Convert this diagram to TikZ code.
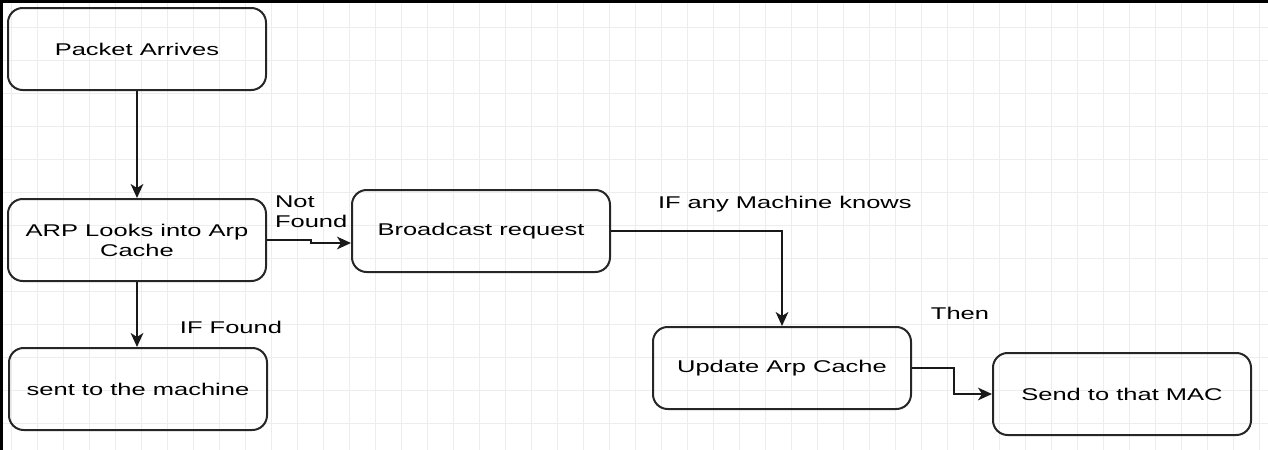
\documentclass[tikz,border=0pt]{standalone}
\usepackage{fontspec}
\setmainfont{Liberation Sans}[FakeStretch=1.5]
\usepackage{tikz}
\usetikzlibrary{arrows.meta,calc}
\tikzset{every picture/.style={line width=1.5pt}}
\tikzset{
  stepbox/.style={draw=black!85,rounded corners=11pt,minimum width=193.5pt,minimum height=61.5pt,align=center,inner sep=0.75pt,font=\fontsize{12.75pt}{15pt}\selectfont},
  lbl/.style={inner sep=0.75pt,font=\fontsize{12.75pt}{14.5pt}\selectfont},
  flow/.style={draw=black!90,line width=1.5pt,-{Stealth[length=10.5pt,width=9.5pt,inset=3pt]}}
}

\begin{document}
\begin{tikzpicture}[x=0.75pt,y=0.75pt,yscale=-1,xscale=1]
\useasboundingbox (0,0) rectangle (1268,450);
% grid
\foreach \gx in {11,37,...,1268} {\draw[line width=0.75pt,black!7] (\gx,0) -- (\gx,450);}
\foreach \gy in {27,60,...,450} {\draw[line width=0.75pt,black!7] (0,\gy) -- (1268,\gy);}
\draw[line width=2.25pt,black] (0,1.5) -- (1268,1.5);
\draw[line width=2.25pt,black] (1.5,0) -- (1.5,450);
% boxes
\node[stepbox] (pa) at (137,49) {Packet Arrives};
\node[stepbox] (arp) at (137,240) {ARP Looks into Arp\\Cache};
\node[stepbox] (snt) at (138,389) {sent to the machine};
\node[stepbox] (bc) at (481,231) {Broadcast request};
\node[stepbox] (upd) at (782,368) {Update Arp Cache};
\node[stepbox] (snd) at (1122,394) {Send to that MAC};
% labels
\node[lbl,anchor=north west,align=left] (nf) at (273,194) {Not\\Found};
\node[lbl] (iff) at (231,327) {IF Found};
\node[lbl,anchor=west] (ifany) at (656,204) {IF any Machine knows};
\node[lbl] (thn) at (960,313) {Then};
% connectors
\draw[flow] (pa) -- (arp);
\draw[flow] (arp.south) -- (arp.south |- snt.north);
\draw[flow] (arp.east) -- ++(44,0) |- ($(bc.west)+(0,12)$);
\draw[flow] (bc.east) -| (upd.north);
\draw[flow] (upd.east) -- ++(42,0) |- (snd.west);
\end{tikzpicture}
\end{document}
